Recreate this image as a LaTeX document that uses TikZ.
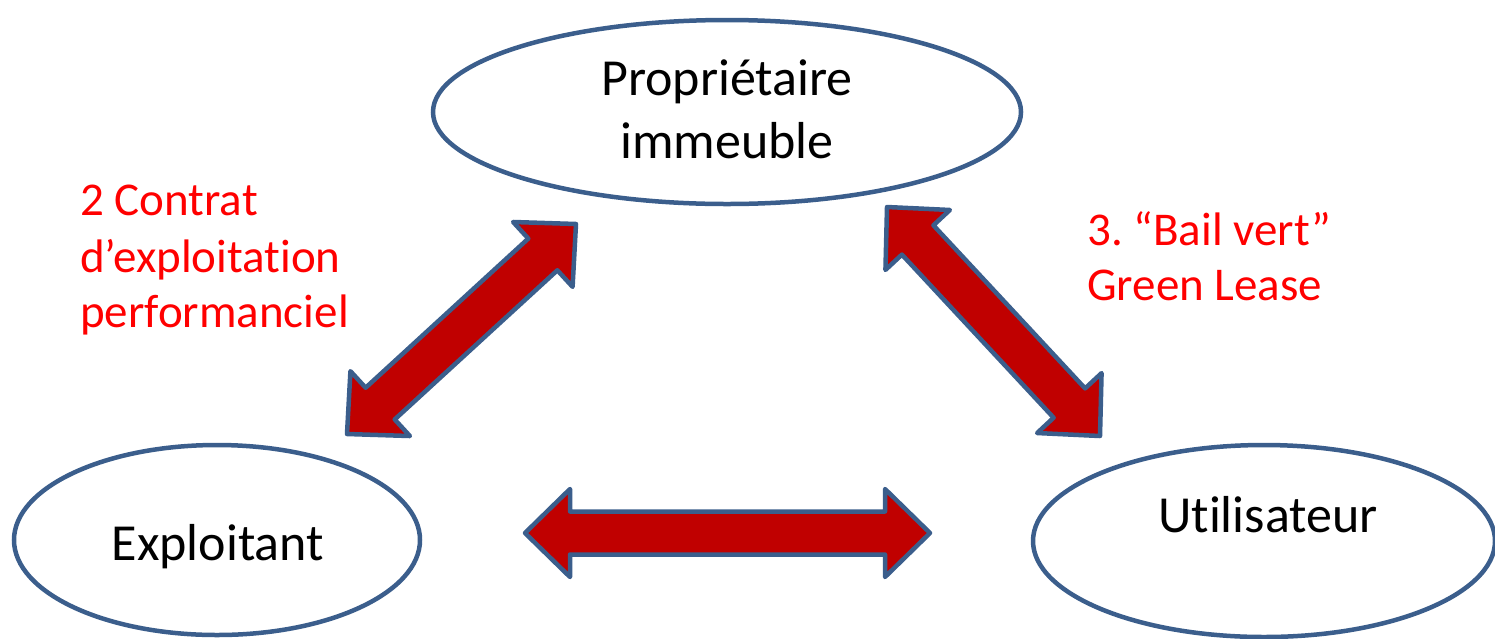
\documentclass[tikz,border=0pt]{standalone}
\usepackage{fontspec}
\setmainfont{Carlito}[Ligatures=NoCommon]
\usetikzlibrary{calc,shapes.geometric}
\definecolor{edgeblue}{HTML}{3B5E8C}
\definecolor{arrred}{HTML}{C00000}
\definecolor{lblred}{HTML}{FF0000}
\frenchspacing
\tikzset{
  ell/.style={ellipse, draw=edgeblue, line width=4.5pt, fill=white, inner sep=0pt},
  blockarr/.style={draw=edgeblue, fill=arrred, line width=4.5pt, line join=round},
  bigtxt/.style={inner sep=0pt, font=\fontsize{52}{63}\selectfont, text=black},
  redtxt/.style={inner sep=0pt, font=\fontsize{47}{56}\selectfont, text=lblred, anchor=base west}
}
\newcommand\blockarrow[2]{%
 \draw[blockarr] let \p1=($(#2)-(#1)$), \n1={atan2(\y1,\x1)} in
 (#1) -- ($(#1)+(\n1:45pt)+(\n1+90:44pt)$) -- ($(#1)+(\n1:45pt)+(\n1+90:21.5pt)$)
 -- ($(#2)+(\n1:-45pt)+(\n1+90:21.5pt)$) -- ($(#2)+(\n1:-45pt)+(\n1+90:44pt)$)
 -- (#2) -- ($(#2)+(\n1:-45pt)+(\n1-90:44pt)$) -- ($(#2)+(\n1:-45pt)+(\n1-90:21.5pt)$)
 -- ($(#1)+(\n1:45pt)+(\n1-90:21.5pt)$) -- ($(#1)+(\n1:45pt)+(\n1-90:44pt)$) -- cycle;}
\begin{document}
\begin{tikzpicture}[x=1pt,y=-1pt]
\useasboundingbox (0,0) rectangle (1495,638);
% ellipses
\node[ell, minimum width=588pt, minimum height=184pt] (prop) at (727,112) {};
\node[ell, minimum width=406pt, minimum height=190pt] (expl) at (217,540) {};
\node[ell, minimum width=462pt, minimum height=192pt] (util) at (1264,541) {};
% ellipse texts
\node[bigtxt, anchor=base] (prop1) at (727,95) {Propriétaire};
\node[bigtxt, anchor=base] (prop2) at (727,158) {immeuble};
\node[bigtxt, anchor=base] (expltxt) at (218,560) {Exploitant};
\node[bigtxt, anchor=base] (utiltxt) at (1268,532) {Utilisateur};
% red labels
\node[redtxt] (l1) at (80,215) {2 Contrat};
\node[redtxt] (l2) at (80,272) {d’exploitation};
\node[redtxt] (l3) at (80,327) {performanciel};
\node[redtxt] (r1) at (1087,245) {3. “Bail vert”};
\node[redtxt] (r2) at (1087,300) {Green Lease};
% arrow ends
\coordinate (a1) at (347,434);
\coordinate (b1) at (576,224);
\coordinate (a2) at (887,207);
\coordinate (b2) at (1100,436);
\coordinate (a3) at (525,533);
\coordinate (b3) at (930,533);
\blockarrow{a1}{b1}
\blockarrow{a2}{b2}
\blockarrow{a3}{b3}
\end{tikzpicture}
\end{document}
